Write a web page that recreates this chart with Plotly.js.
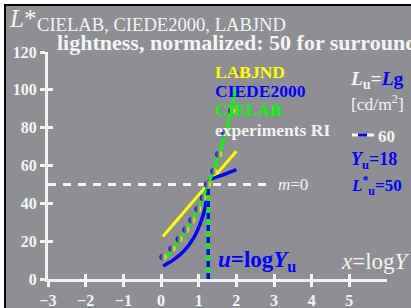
<!DOCTYPE html>
<html><head><meta charset="utf-8">
<script src="https://cdn.plot.ly/plotly-3.0.1.min.js"></script>
<style>
html,body{margin:0;padding:0;background:#fff;width:411px;height:308px;overflow:hidden}
#frame{position:absolute;left:4px;top:4px;width:407px;height:304px;background:#8e8f93;border-left:2px solid #000;border-top:2px solid #000;box-sizing:border-box}
#plot{position:absolute;left:0;top:0;width:411px;height:308px}
</style></head>
<body><div id="frame"></div><div id="plot"></div>
<script>
// ---- data (x = log Y, y = L*) ----
const xTicks = [-3,-2,-1,0,1,2,3,4,5];
const yTicks = [0,20,40,60,80,100,120];
const surroundLogY = [1.255, 1.255];
const surroundL = [0, 50];
const midLineX = [-3, 2.8];
const midLineY = [50, 50];
const labjndX = [0.05, 1.255, 2.0];
const labjndL = [22.5, 50, 67.5];
const ciede2000X = [0.06, 0.33, 0.59, 0.86, 1.03, 1.17, 1.255, 1.3, 1.65, 2.0];
const ciede2000L = [6.9, 10.1, 14.4, 21.5, 28.6, 37.4, 50, 52.3, 55.1, 57.8];
const cielabX = [0.05, 0.25, 0.5, 0.75, 1.0, 1.255, 1.5, 1.75, 2.0];
const cielabL = [10, 14.3, 20.7, 28.4, 37.8, 50, 63.0, 79.7, 100];
const expX = [0.05, 0.29, 0.48, 0.66, 0.82, 0.98, 1.12, 1.23, 1.40, 1.53, 1.70, 1.88, 2.07, 2.28];
const expL = [11.6, 16, 21, 26, 31, 37, 43, 50, 57, 66, 77, 89, 108, 130];

const W = '#f4f4f4', BLUE = '#0000ff', GREEN = '#00ff00', YEL = '#ffff00';
const SERIF = '"Liberation Serif", "Times New Roman", serif';
const px = v => (v - 48) / 339;
const py = v => (279 - v) / 227;

const traces = [
  {x: midLineX, y: midLineY, mode: 'lines', line: {color: W, width: 3, dash: '8px,7px'}, hoverinfo: 'skip'},
  {x: labjndX, y: labjndL, mode: 'lines', line: {color: YEL, width: 3}},
  {x: ciede2000X, y: ciede2000L, mode: 'lines', line: {color: BLUE, width: 3.5, shape: 'spline', smoothing: 0.6}},
  {x: cielabX, y: cielabL, mode: 'lines', line: {color: GREEN, width: 3, shape: 'spline', smoothing: 0.6}},
  {x: surroundLogY, y: surroundL, mode: 'lines', line: {color: GREEN, width: 3.5}},
  {x: surroundLogY, y: surroundL, mode: 'lines', line: {color: BLUE, width: 3.5, dash: '6px,6px'}},
  {x: expX, y: expL, mode: 'markers', cliponaxis: false,
   marker: {color: BLUE, size: 7, line: {width: 0}, gradient: {type: 'horizontal', color: YEL}}},
  {x: [], y: [], xaxis: 'x2', yaxis: 'y2'}
];

const axFont = {family: SERIF, size: 16, color: W, weight: 'bold'};
const layout = {
  width: 411, height: 308,
  margin: {l: 48, r: 24, t: 52, b: 29},
  paper_bgcolor: 'rgba(0,0,0,0)', plot_bgcolor: 'rgba(0,0,0,0)',
  showlegend: false,
  xaxis: {range: [-3, 6], tickvals: xTicks, showgrid: false, zeroline: false, showline: true,
          linecolor: W, linewidth: 3, ticks: 'outside', ticklen: 5, tickwidth: 3, tickcolor: W,
          tickfont: axFont, fixedrange: true},
  yaxis: {range: [0, 120], tickvals: yTicks, showgrid: false, zeroline: false, showline: true,
          linecolor: W, linewidth: 3, ticks: 'outside', ticklen: 5, tickwidth: 3, tickcolor: W,
          tickfont: axFont, fixedrange: true},
  xaxis2: {range: [-3, 6], overlaying: 'x', anchor: 'y2', tickvals: xTicks, showticklabels: false,
           showgrid: false, zeroline: false, showline: false, ticks: 'inside', ticklen: 5, tickwidth: 3, tickcolor: W},
  yaxis2: {range: [0, 120], overlaying: 'y', anchor: 'x2', tickvals: yTicks, showticklabels: false,
           showgrid: false, zeroline: false, showline: false, ticks: 'inside', ticklen: 5, tickwidth: 3, tickcolor: W},
  shapes: [
    {type: 'line', xref: 'paper', yref: 'paper', x0: px(352), x1: px(374), y0: py(135), y1: py(135), line: {color: W, width: 3}},
    {type: 'line', xref: 'paper', yref: 'paper', x0: px(358), x1: px(367), y0: py(135), y1: py(135), line: {color: BLUE, width: 3}}
  ],
  annotations: []
};

function ann(x, y, text, size, color, extra) {
  return Object.assign({xref: 'paper', yref: 'paper', x: px(x), y: py(y), xanchor: 'left', yanchor: 'middle',
    showarrow: false, text: text, font: {family: SERIF, size: size, color: color}}, extra || {});
}
layout.annotations.push(
  ann(7, 19, '<i>L</i>*', 25, W),
  ann(35, 25, 'CIELAB, CIEDE2000, LABJND', 18.6, W),
  ann(55, 42, '<b>lightness, normalized: 50 for surround</b>', 22, W),
  ann(213, 72, '<b>LABJND</b>', 17.5, YEL),
  ann(213, 91, '<b>CIEDE2000</b>', 17.5, BLUE),
  ann(213, 110, '<b>CIELAB</b>', 17.5, GREEN),
  ann(213, 130, '<b>experiments RI</b>', 17.5, W),
  ann(348, 80, '<b><i>L</i><sub>u</sub>=</b><span style="color:#0000ff"><b><i>L</i>g</b></span>', 19.5, W),
  ann(349, 103, '[cd/m<sup>2</sup>]', 17.5, W),
  ann(376, 136, '<b>60</b>', 17, W),
  ann(349, 160, '<b><i>Y</i><sub>u</sub>=18</b>', 18, BLUE),
  ann(349, 185, '<b><i>L</i><sup>*</sup><sub>u</sub>=50</b>', 17, BLUE),
  ann(276, 184, '<i>m</i>=0', 17, W),
  ann(216, 261, '<b><i>u</i>=log<i>Y</i><sub>u</sub></b>', 23, BLUE),
  ann(339, 261, '<i>x</i>=log<i>Y</i>', 23, W)
);

Plotly.newPlot('plot', traces, layout, {staticPlot: true, displayModeBar: false});
</script></body></html>
